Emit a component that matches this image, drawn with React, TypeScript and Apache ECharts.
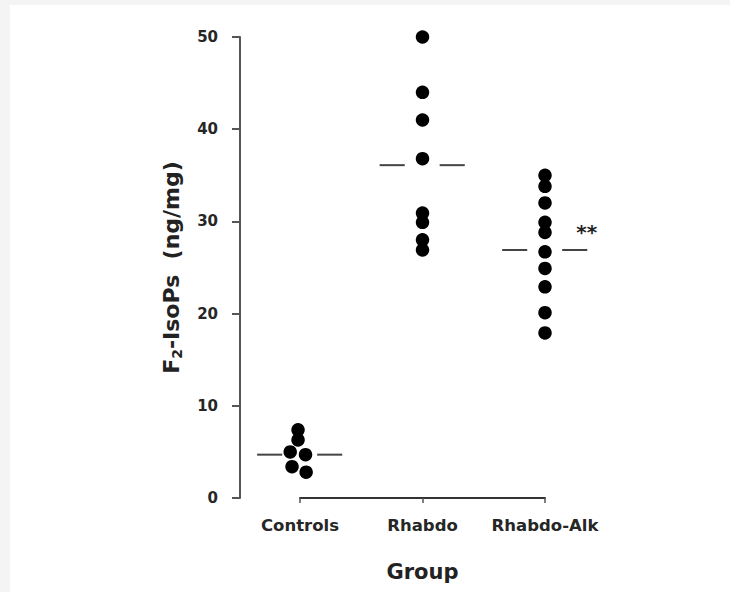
import React, { useEffect, useRef } from "react";
import * as echarts from "echarts";

const categories = ["Controls", "Rhabdo", "Rhabdo-Alk"];
const controlsValues = [7.4, 6.3, 5.0, 4.7, 3.4, 2.8];
const controlsJitter = [-0.016, -0.016, -0.08, 0.045, -0.065, 0.05];
const rhabdoValues = [50, 44, 41, 36.8, 30.9, 29.9, 28.0, 26.9];
const rhabdoAlkValues = [35.0, 33.8, 32.0, 29.9, 28.8, 26.7, 24.9, 22.9, 20.1, 17.9];
const groupMeans = [4.7, 36.1, 26.9];
const significance = ["", "", "**"];
const yMin = 0;
const yMax = 50;
const yInterval = 10;

const FONT = "DejaVu Sans";

export default function App() {
  const ref = useRef<HTMLDivElement>(null);
  useEffect(() => {
    if (!ref.current) return;
    const chart = echarts.init(ref.current, undefined, { renderer: "svg" });
    const points: number[][] = [];
    controlsValues.forEach((v, i) => points.push([0 + controlsJitter[i], v]));
    rhabdoValues.forEach((v) => points.push([1, v]));
    rhabdoAlkValues.forEach((v) => points.push([2, v]));

    const option: any = {
      animation: false,
      backgroundColor: "#ffffff",
      graphic: [
        { type: "rect", left: 0, top: 0, shape: { width: 730, height: 5 }, style: { fill: "#f4f4f4" }, silent: true, z: -10 },
        { type: "rect", left: 0, top: 0, shape: { width: 10, height: 592 }, style: { fill: "#f4f4f4" }, silent: true, z: -10 },
      ],
      grid: { left: 300, right: 185, top: 37, bottom: 94, containLabel: false },
      xAxis: {
        type: "value",
        min: 0,
        max: 2,
        interval: 1,
        name: "Group",
        nameLocation: "middle",
        nameGap: 63,
        nameTextStyle: { fontFamily: FONT, fontSize: 21, fontWeight: "bold", color: "#222" },
        axisLine: { show: true, onZero: false, lineStyle: { color: "#333", width: 2 } },
        axisTick: { show: true, length: 5, lineStyle: { color: "#555", width: 1.5 } },
        axisLabel: {
          margin: 19,
          fontFamily: FONT,
          fontSize: 16.5,
          fontWeight: "bold",
          color: "#262626",
          formatter: (v: number) => categories[Math.round(v)] ?? "",
        },
        splitLine: { show: false },
      },
      yAxis: {
        type: "value",
        min: yMin,
        max: yMax,
        interval: yInterval,
        offset: 60,
        name: "{b|F}{s|2}{b|-IsoPs  (ng/mg)}",
        nameLocation: "middle",
        nameGap: 56,
        nameTextStyle: {
          rich: {
            b: { fontFamily: FONT, fontSize: 22, fontWeight: "bold", color: "#222" },
            s: { fontFamily: FONT, fontSize: 14, fontWeight: "bold", color: "#222", padding: [12, 0, 0, 0] },
          },
        },
        axisLine: { show: true, onZero: false, lineStyle: { color: "#555", width: 2 } },
        axisTick: { show: true, length: 8, lineStyle: { color: "#555", width: 2 } },
        axisLabel: {
          margin: 22,
          fontFamily: FONT,
          fontSize: 15,
          fontWeight: "bold",
          color: "#262626",
        },
        splitLine: { show: false },
      },
      series: [
        {
          type: "scatter",
          data: points,
          symbol: "circle",
          symbolSize: 13.5,
          itemStyle: { color: "#000", opacity: 1 },
          clip: false,
          silent: true,
        },
        {
          type: "custom",
          clip: false,
          silent: true,
          data: groupMeans.map((m, i) => [i, m]),
          renderItem: (params: any, api: any) => {
            const x = api.value(0);
            const m = api.value(1);
            const a1 = api.coord([x - 0.35, m]);
            const a2 = api.coord([x - 0.145, m]);
            const b1 = api.coord([x + 0.14, m]);
            const b2 = api.coord([x + 0.345, m]);
            const children: any[] = [
              { type: "line", shape: { x1: a1[0], y1: a1[1], x2: a2[0], y2: a2[1] }, style: { stroke: "#444", lineWidth: 2 } },
              { type: "line", shape: { x1: b1[0], y1: b1[1], x2: b2[0], y2: b2[1] }, style: { stroke: "#444", lineWidth: 2 } },
            ];
            const sig = significance[params.dataIndex];
            if (sig) {
              const t = api.coord([x + 0.34, m + 2.0]);
              children.push({
                type: "text",
                x: t[0],
                y: t[1],
                style: { text: sig, fontFamily: FONT, fontSize: 20, fontWeight: "bold", fill: "#222", textAlign: "center", textVerticalAlign: "middle" },
              });
            }
            return { type: "group", children };
          },
        },
      ],
    };
    chart.setOption(option);
    return () => chart.dispose();
  }, []);
  return <div ref={ref} style={{ position: "fixed", left: 0, top: 0, width: 730, height: 592 }} />;
}
